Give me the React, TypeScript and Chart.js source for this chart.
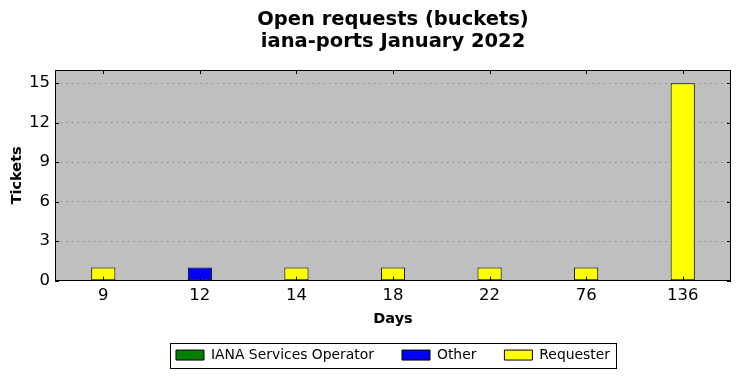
import React, { useEffect, useRef } from "react";
import { Chart, registerables } from "chart.js";

Chart.register(...registerables);

const titleLines = ["Open requests (buckets)", "iana-ports January 2022"];
const categories = ["9", "12", "14", "18", "22", "76", "136"];
const operatorValues = [0, 0, 0, 0, 0, 0, 0];
const otherValues = [0, 1, 0, 0, 0, 0, 0];
const requesterValues = [1, 0, 1, 1, 1, 1, 15];
const yTickValues = [0, 3, 6, 9, 12, 15];
const yMax = 16;

const FONT = "'DejaVu Sans', sans-serif";

const nz = (arr: number[]) => arr.map((v) => (v === 0 ? null : v));

const framePlugin = {
  id: "frame",
  beforeDraw(chart: any) {
    const { ctx, chartArea } = chart;
    ctx.save();
    ctx.fillStyle = "#bfbfbf";
    ctx.fillRect(chartArea.left, chartArea.top, chartArea.right - chartArea.left, chartArea.bottom - chartArea.top);
    ctx.restore();
  },
  afterDraw(chart: any) {
    const { ctx, chartArea } = chart;
    const { left, right, top, bottom } = chartArea;
    ctx.save();
    ctx.strokeStyle = "#000";
    ctx.lineWidth = 1;
    const x = chart.scales.x;
    const y = chart.scales.y;
    ctx.beginPath();
    x.ticks.forEach((_t: any, i: number) => {
      const px = Math.round(x.getPixelForTick(i)) + 0.5;
      ctx.moveTo(px, bottom);
      ctx.lineTo(px, bottom - 4);
      ctx.moveTo(px, top);
      ctx.lineTo(px, top + 4);
    });
    y.ticks.forEach((_t: any, i: number) => {
      const py = Math.round(y.getPixelForTick(i)) + 0.5;
      ctx.moveTo(left, py);
      ctx.lineTo(left + 4, py);
      ctx.moveTo(right, py);
      ctx.lineTo(right - 4, py);
    });
    ctx.stroke();
    ctx.strokeRect(Math.round(left) + 0.5, Math.round(top) + 0.5, Math.round(right - left) - 1, Math.round(bottom - top) - 1);
    // legend frame
    const lg = chart.legend;
    if (lg && lg.legendHitBoxes && lg.legendHitBoxes.length) {
      const hb = lg.legendHitBoxes;
      const l = Math.min(...hb.map((h: any) => h.left));
      const r = Math.max(...hb.map((h: any) => h.left + h.width));
      const t = hb[0].top;
      const h = hb[0].height;
      const cy = t + h / 2;
      ctx.strokeRect(Math.round(l - 6) + 0.5, Math.round(cy - 12) + 0.5, Math.round(r - l + 12), 25);
    }
    ctx.restore();
  },
};

export default function App() {
  const ref = useRef<HTMLCanvasElement>(null);
  useEffect(() => {
    if (!ref.current) return;
    Chart.defaults.font.family = FONT;
    Chart.defaults.color = "#000";
    const chart = new Chart(ref.current, {
      type: "bar",
      data: {
        labels: categories,
        datasets: [
          { label: "IANA Services Operator", data: nz(operatorValues), backgroundColor: "#008000", borderColor: "#000", borderWidth: 1, borderSkipped: false },
          { label: "Other", data: nz(otherValues), backgroundColor: "#0000ff", borderColor: "#000", borderWidth: 1, borderSkipped: false },
          { label: "Requester", data: nz(requesterValues), backgroundColor: "#ffff00", borderColor: "#000", borderWidth: 1, borderSkipped: false },
        ],
      },
      options: {
        responsive: false,
        animation: false,
        layout: { padding: { left: 0, right: 10, top: 0, bottom: 6 } },
        datasets: { bar: { barPercentage: 0.25, categoryPercentage: 1 } },
        plugins: {
          title: {
            display: true,
            text: titleLines,
            fullSize: false,
            font: { size: 19.5, weight: "bold", family: FONT, lineHeight: 22 / 19.5 },
            color: "#000",
            padding: { top: 9, bottom: 17 },
          },
          legend: {
            position: "bottom",
            fullSize: false,
            labels: {
              boxWidth: 28,
              boxHeight: 10,
              padding: 28,
              color: "#000",
              font: { size: 13.9, family: FONT },
            },
          },
          tooltip: { enabled: false },
        },
        scales: {
          x: {
            stacked: true,
            grid: { display: false, drawTicks: false },
            border: { display: false },
            ticks: { font: { size: 16.5, family: FONT }, color: "#000", padding: 5, maxRotation: 0 },
            title: { display: true, text: "Days", font: { size: 14.5, weight: "bold", family: FONT }, color: "#000", padding: { top: 0, bottom: -8 } },
            afterFit(scale: any) {
              scale.height = 39.5;
            },
          },
          y: {
            stacked: true,
            min: 0,
            max: yMax,
            grid: {
              drawTicks: false,
              color: "rgba(0,0,0,0.5)",
              lineWidth: 0.6,
            },
            border: { display: false, dash: [1.4, 4.2] },
            ticks: { font: { size: 16.5, family: FONT }, color: "#000", padding: 5, stepSize: 3 },
            title: { display: true, text: "Tickets", font: { size: 14.5, weight: "bold", family: FONT }, color: "#000", padding: { top: 8.4, bottom: 0 } },
            afterBuildTicks(scale: any) {
              scale.ticks = yTickValues.map((v) => ({ value: v }));
            },
            afterFit(scale: any) {
              scale.width = 55;
            },
          },
        },
      },
      plugins: [framePlugin],
    } as any);
    return () => chart.destroy();
  }, []);
  return (
    <div style={{ position: "fixed", left: 0, top: 0, width: 741, height: 378, background: "#fff" }}>
      <canvas ref={ref} width={741} height={378} style={{ display: "block" }} />
    </div>
  );
}
